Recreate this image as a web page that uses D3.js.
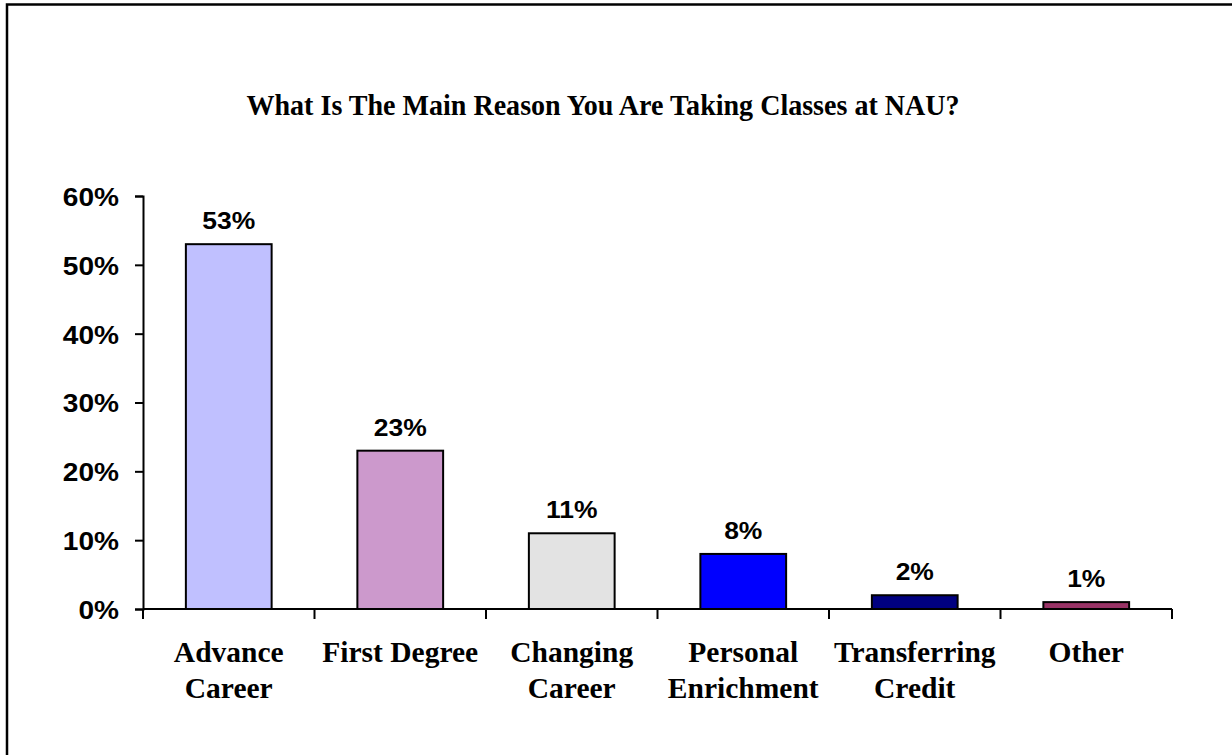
<!DOCTYPE html>
<html>
<head>
<meta charset="utf-8">
<script src="https://cdn.jsdelivr.net/npm/d3@7"></script>
<style>
  html, body { margin: 0; padding: 0; background: #fff; }
  svg { display: block; }
</style>
</head>
<body>
<svg id="chart" width="1232" height="755"></svg>
<script>
// Survey answers: main reason for taking classes
const categories = [
  ["Advance", "Career"],
  ["First Degree"],
  ["Changing", "Career"],
  ["Personal", "Enrichment"],
  ["Transferring", "Credit"],
  ["Other"]
];
const values = [53, 23, 11, 8, 2, 1];
const barColors = ["#C0C0FF", "#CC99CC", "#E3E3E3", "#0000FF", "#000080", "#993366"];
const yTicks = [0, 10, 20, 30, 40, 50, 60];
const title = "What Is The Main Reason You Are Taking Classes at NAU?";

const SANS = "'Liberation Sans', Arial, sans-serif";
const SERIF = "'Liberation Serif', 'Times New Roman', serif";
const SANS_WIDEN = 1.08;   // sans labels are drawn slightly wide
const TITLE_NARROW = 0.935; // title is drawn slightly condensed

const svg = d3.select("#chart");
const keys = categories.map(c => c.join(" "));

const x = d3.scaleBand()
  .domain(keys)
  .range([143, 1172])
  .paddingInner(0.5)
  .paddingOuter(0.25);

const y = d3.scaleLinear()
  .domain([0, 60])
  .range([609, 196]);

// Chart area frame (top and left edges visible)
svg.append("rect")
  .attr("x", 7).attr("y", 4.5)
  .attr("width", 1300).attr("height", 800)
  .attr("fill", "none")
  .attr("stroke", "#000")
  .attr("stroke-width", 2.5);

// Title
svg.append("text")
  .attr("transform", `translate(603,115) scale(${TITLE_NARROW},1)`)
  .attr("text-anchor", "middle")
  .attr("font-family", SERIF)
  .attr("font-weight", "bold")
  .attr("font-size", 30)
  .text(title);

// Bars
svg.append("g").selectAll("rect")
  .data(values)
  .join("rect")
  .attr("x", (d, i) => x(keys[i]))
  .attr("y", d => y(d))
  .attr("width", x.bandwidth())
  .attr("height", d => y(0) - y(d))
  .attr("fill", (d, i) => barColors[i])
  .attr("stroke", "#000")
  .attr("stroke-width", 2);

// Value labels above the bars
svg.append("g").selectAll("text")
  .data(values)
  .join("text")
  .attr("transform", (d, i) =>
    `translate(${x(keys[i]) + x.bandwidth() / 2},${y(d) - 15}) scale(${SANS_WIDEN},1)`)
  .attr("text-anchor", "middle")
  .attr("font-family", SANS)
  .attr("font-weight", "bold")
  .attr("font-size", 24.5)
  .text(d => d + "%");

// Y axis
const yAxis = d3.axisLeft(y)
  .tickValues(yTicks)
  .tickSize(8)
  .tickPadding(16)
  .tickFormat(d => d + "%");

const yg = svg.append("g")
  .attr("transform", "translate(143,0)")
  .call(yAxis);
yg.select(".domain").attr("stroke-width", 2);
yg.selectAll(".tick line").attr("stroke-width", 2);
yg.selectAll(".tick text")
  .attr("x", 0)
  .attr("dy", "0.36em")
  .attr("transform", `translate(-24,0) scale(${SANS_WIDEN},1)`)
  .attr("font-family", SANS)
  .attr("font-weight", "bold")
  .attr("font-size", 26)
  .attr("fill", "#000");

// X axis: tick marks at category boundaries
const xg = svg.append("g").attr("transform", "translate(0,609)");
xg.append("line")
  .attr("x1", 143).attr("x2", 1172)
  .attr("stroke", "#000").attr("stroke-width", 2);
const bounds = keys.map(k => x(k) - x.step() * x.paddingOuter()).concat([1172]);
xg.selectAll("line.tk")
  .data(bounds)
  .join("line")
  .attr("class", "tk")
  .attr("x1", d => d).attr("x2", d => d)
  .attr("y1", 0).attr("y2", 10)
  .attr("stroke", "#000").attr("stroke-width", 2);

// Category labels
const lab = svg.append("g").selectAll("text")
  .data(categories)
  .join("text")
  .attr("x", (d, i) => x(keys[i]) + x.bandwidth() / 2)
  .attr("y", 662)
  .attr("text-anchor", "middle")
  .attr("font-family", SERIF)
  .attr("font-weight", "bold")
  .attr("font-size", 29.5);
lab.selectAll("tspan")
  .data(d => d)
  .join("tspan")
  .attr("x", function () { return this.parentNode.getAttribute("x"); })
  .attr("dy", (d, i) => i === 0 ? 0 : 36)
  .text(d => d);
</script>
</body>
</html>
